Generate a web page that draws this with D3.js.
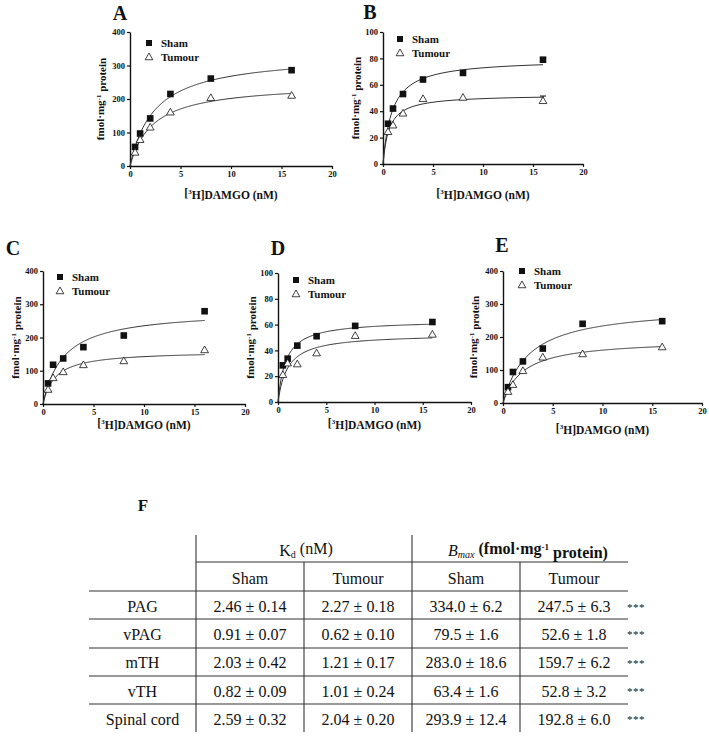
<!DOCTYPE html>
<html><head><meta charset="utf-8">
<script src="https://cdn.jsdelivr.net/npm/d3@7"></script>
<style>body{margin:0;background:#fff} svg{display:block}</style>
</head><body>
<svg id="chart" width="709" height="740"></svg>
<script>
// ---------- data ----------
const concentrations = [0.5, 1, 2, 4, 8, 16];
const panelLetters = ["A", "B", "C", "D", "E"];
const regions = ["PAG", "vPAG", "mTH", "vTH", "Spinal cord"];
const seriesNames = ["Sham", "Tumour"];
const xTickValues = [0, 5, 10, 15, 20];
const xMax = 20;
const yMaxValues = [400, 100, 400, 100, 400];
const yTickValues = [
  [0, 100, 200, 300, 400],
  [0, 20, 40, 60, 80, 100],
  [0, 100, 200, 300, 400],
  [0, 20, 40, 60, 80, 100],
  [0, 100, 200, 300, 400]
];
const shamValues = [
  [57, 97, 142, 215, 261, 286],
  [30.5, 42, 53, 64, 69, 79],
  [62, 118, 137, 171, 206, 279],
  [28.4, 33.6, 43.7, 51, 59, 62],
  [48, 94, 126, 165, 240, 248]
];
const tumourValues = [
  [39, 77, 114, 159, 202, 209],
  [24, 29, 38, 49, 50, 47.5],
  [42, 77, 95, 116, 128, 161],
  [20.7, 29.7, 29, 37.5, 51, 52],
  [33, 54, 96, 137, 147, 168]
];
const tumourSemB = [0, 0, 0, 0, 0, 4];
const kdSham = [2.46, 0.91, 2.03, 0.82, 2.59];
const kdShamSem = [0.14, 0.07, 0.42, 0.09, 0.32];
const kdTumour = [2.27, 0.62, 1.21, 1.01, 2.04];
const kdTumourSem = [0.18, 0.10, 0.17, 0.24, 0.20];
const bmaxSham = [334.0, 79.5, 283.0, 63.4, 293.9];
const bmaxShamSem = [6.2, 1.6, 18.6, 1.6, 12.4];
const bmaxTumour = [247.5, 52.6, 159.7, 52.8, 192.8];
const bmaxTumourSem = [6.3, 1.8, 6.2, 3.2, 6.0];
const significance = ["***", "***", "***", "***", "***"];

// ---------- layout ----------
const panelLayout = [
  {left:130, right:332, top:32,  bottom:166, letter:[120,13],  legend:[149,43],  titleDy:27, ylabDx:30},
  {left:383, right:583, top:32,  bottom:164, letter:[370,12],  legend:[400,39],  titleDy:29, ylabDx:28},
  {left:43,  right:245, top:271, bottom:404, letter:[13,248],  legend:[60,277],  titleDy:19, ylabDx:28},
  {left:278, right:471, top:273, bottom:402, letter:[278,248], legend:[296,280], titleDy:21, ylabDx:28},
  {left:503, right:702, top:271, bottom:403, letter:[502,245], legend:[522,271], titleDy:25, ylabDx:30}
];
const SERIF = "'Liberation Serif', 'Times New Roman', serif";

const svg = d3.select("#chart");
svg.append("rect").attr("width", 709).attr("height", 740).attr("fill", "#fff");

const triPath = d3.symbol().type(d3.symbolTriangle).size(26)();

panelLetters.forEach((letter, i) => {
  const L = panelLayout[i];
  const g = svg.append("g");
  const x = d3.scaleLinear().domain([0, xMax]).range([L.left, L.right]);
  const y = d3.scaleLinear().domain([0, yMaxValues[i]]).range([L.bottom, L.top]);

  // axes
  const xa = g.append("g").attr("transform", `translate(0,${L.bottom})`)
    .call(d3.axisBottom(x).tickValues(xTickValues).tickSize(3).tickSizeOuter(0).tickPadding(2));
  const ya = g.append("g").attr("transform", `translate(${L.left},0)`)
    .call(d3.axisLeft(y).tickValues(yTickValues[i]).tickSize(3).tickSizeOuter(0).tickPadding(2));
  [xa, ya].forEach(a => {
    a.select(".domain").attr("stroke", "#111").attr("stroke-width", 1.4);
    a.selectAll(".tick line").attr("stroke", "#111").attr("stroke-width", 1.2);
    a.selectAll(".tick text").attr("font-family", SERIF).attr("font-weight", "bold")
      .attr("font-size", 8.5).attr("fill", "#111");
  });

  // fitted one-site curves from table Kd / Bmax
  const fits = [[bmaxSham[i], kdSham[i]], [bmaxTumour[i], kdTumour[i]]];
  const xs = d3.range(0, 16.001, 0.1);
  fits.forEach(([bm, kd]) => {
    g.append("path")
      .attr("d", d3.line().x(d => x(d)).y(d => y(bm * d / (kd + d)))(xs))
      .attr("fill", "none").attr("stroke", "#333").attr("stroke-width", 1);
  });

  // error bars (panel B tumour)
  if (i === 1) {
    tumourSemB.forEach((s, k) => {
      if (s > 0) {
        const cx = x(concentrations[k]);
        g.append("line").attr("x1", cx).attr("x2", cx)
          .attr("y1", y(tumourValues[i][k])).attr("y2", y(tumourValues[i][k] + s))
          .attr("stroke", "#111").attr("stroke-width", 1);
        g.append("line").attr("x1", cx - 3).attr("x2", cx + 3)
          .attr("y1", y(tumourValues[i][k] + s)).attr("y2", y(tumourValues[i][k] + s))
          .attr("stroke", "#111").attr("stroke-width", 1);
      }
    });
  }

  // points
  g.selectAll(".sq").data(shamValues[i]).join("rect")
    .attr("x", (d, k) => x(concentrations[k]) - 3.3)
    .attr("y", d => y(d) - 3.3)
    .attr("width", 6.6).attr("height", 6.6).attr("fill", "#111");
  g.selectAll(".tri").data(tumourValues[i]).join("path")
    .attr("d", triPath)
    .attr("transform", (d, k) => `translate(${x(concentrations[k])},${y(d)})`)
    .attr("fill", "#fff").attr("stroke", "#111").attr("stroke-width", 0.8);

  // legend
  const [lx, ly] = L.legend;
  g.append("rect").attr("x", lx - 3).attr("y", ly - 3).attr("width", 6).attr("height", 6).attr("fill", "#111");
  g.append("path").attr("d", triPath).attr("transform", `translate(${lx},${ly + 14.5})`)
    .attr("fill", "#fff").attr("stroke", "#111").attr("stroke-width", 0.8);
  seriesNames.forEach((name, k) => {
    g.append("text").attr("x", lx + 12).attr("y", ly + k * 14.5).attr("dy", "0.35em")
      .attr("font-family", SERIF).attr("font-weight", "bold").attr("font-size", 11)
      .attr("fill", "#111").text(name);
  });

  // x title
  const xt = g.append("text").attr("x", (L.left + L.right) / 2).attr("y", L.bottom + L.titleDy)
    .attr("dy", "0.35em").attr("text-anchor", "middle")
    .attr("font-family", SERIF).attr("font-weight", "bold").attr("font-size", 11.5).attr("fill", "#111");
  xt.append("tspan").text("[");
  xt.append("tspan").attr("font-size", 7).attr("dy", "-0.45em").text("3");
  xt.append("tspan").attr("dy", "0.45em").text("H]DAMGO (nM)");

  // y title
  const cy = (L.top + L.bottom) / 2, cxl = L.left - L.ylabDx;
  const yt = g.append("text").attr("transform", `translate(${cxl},${cy}) rotate(-90)`)
    .attr("text-anchor", "middle").attr("dy", "0.35em")
    .attr("font-family", SERIF).attr("font-weight", "bold").attr("font-size", 11).attr("fill", "#111");
  yt.append("tspan").text("fmol·mg");
  yt.append("tspan").attr("font-size", 7).attr("dy", "-0.45em").text("-1");
  yt.append("tspan").attr("dy", "0.45em").text(" protein");

  // panel letter
  g.append("text").attr("x", L.letter[0]).attr("y", L.letter[1]).attr("dy", "0.35em")
    .attr("text-anchor", "middle").attr("font-family", SERIF).attr("font-weight", "bold")
    .attr("font-size", 20).attr("fill", "#111").text(letter);
});

// ---------- table F ----------
const T = {left:89, cols:[196, 304, 412, 520, 628], top:535, h1:562, h2:591,
  rowLines:[619, 648, 676, 704], bottom:732, rowY:[606.5, 634, 662.5, 691, 719]};
const tg = svg.append("g");
svg.append("text").attr("x", 143).attr("y", 505).attr("dy", "0.35em").attr("text-anchor", "middle")
  .attr("font-family", SERIF).attr("font-weight", "bold").attr("font-size", 17).attr("fill", "#111").text("F");

const lineStyle = s => s.attr("stroke", "#333").attr("stroke-width", 1.1);
tg.append("line").attr("x1", T.cols[0]).attr("x2", T.cols[4]).attr("y1", T.h1).attr("y2", T.h1).call(lineStyle);
[T.h2, ...T.rowLines].forEach(yy => tg.append("line").attr("x1", T.left).attr("x2", T.cols[4])
  .attr("y1", yy).attr("y2", yy).call(lineStyle));
[T.cols[0], T.cols[2]].forEach(xx => tg.append("line").attr("x1", xx).attr("x2", xx)
  .attr("y1", T.top).attr("y2", T.bottom).call(lineStyle));
[T.cols[1], T.cols[3]].forEach(xx => tg.append("line").attr("x1", xx).attr("x2", xx)
  .attr("y1", T.h1).attr("y2", T.bottom).call(lineStyle));

const txt = (x, y, size) => tg.append("text").attr("x", x).attr("y", y).attr("dy", "0.35em")
  .attr("text-anchor", "middle").attr("font-family", SERIF).attr("font-size", size || 16).attr("fill", "#111");

// header 1
const kdT = txt((T.cols[0] + T.cols[2]) / 2 + 2, 550);
kdT.append("tspan").text("K");
kdT.append("tspan").attr("font-size", 10).attr("dy", "0.25em").text("d");
kdT.append("tspan").attr("dy", "-0.25em").text(" (nM)");
const bmT = txt((T.cols[2] + T.cols[4]) / 2 + 8, 550);
bmT.append("tspan").attr("font-style", "italic").text("B");
bmT.append("tspan").attr("font-style", "italic").attr("font-size", 10).attr("dy", "0.25em").text("max");
bmT.append("tspan").attr("dy", "-0.25em").attr("font-weight", "bold").text(" (fmol·mg");
bmT.append("tspan").attr("font-size", 9).attr("font-weight", "bold").attr("dy", "-0.5em").text("-1");
bmT.append("tspan").attr("dy", "0.5em").attr("font-weight", "bold").text(" protein)");

// header 2
const colCenters = d3.range(4).map(k => (T.cols[k] + T.cols[k + 1]) / 2);
["Sham", "Tumour", "Sham", "Tumour"].forEach((h, k) => txt(colCenters[k], 578).text(h));

// rows
regions.forEach((r, k) => {
  const yy = T.rowY[k];
  txt((T.left + T.cols[0]) / 2, yy).text(r);
  txt(colCenters[0], yy).text(`${kdSham[k].toFixed(2)} ± ${kdShamSem[k].toFixed(2)}`);
  txt(colCenters[1], yy).text(`${kdTumour[k].toFixed(2)} ± ${kdTumourSem[k].toFixed(2)}`);
  txt(colCenters[2], yy).text(`${bmaxSham[k].toFixed(1)} ± ${bmaxShamSem[k].toFixed(1)}`);
  txt(colCenters[3], yy).text(`${bmaxTumour[k].toFixed(1)} ± ${bmaxTumourSem[k].toFixed(1)}`);
  tg.append("text").attr("x", 636).attr("y", yy + 4).attr("text-anchor", "middle")
    .attr("font-family", SERIF).attr("font-size", 11).attr("letter-spacing", 0.5)
    .attr("fill", "#111").text(significance[k]);
});
</script>
</body></html>
